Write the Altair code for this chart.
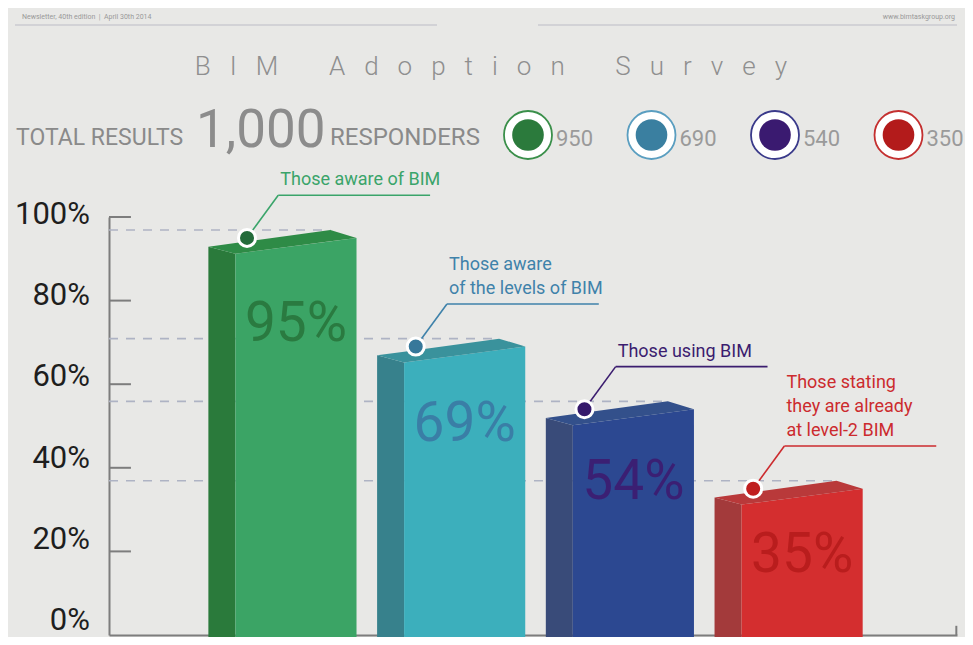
import altair as alt
import pandas as pd

# ---------------- data ----------------
categories = ["Those aware of BIM", "Those aware of the levels of BIM",
              "Those using BIM", "Those stating they are already at level-2 BIM"]
label_lines = [["Those aware of BIM"],
               ["Those aware", "of the levels of BIM"],
               ["Those using BIM"],
               ["Those stating", "they are already", "at level-2 BIM"]]
percents = [95, 69, 54, 35]
counts = [950, 690, 540, 350]
total_text = "1,000"
y_ticks = [0, 20, 40, 60, 80, 100]

front_colors = ["#3ba465", "#3cafbc", "#2c4891", "#d42e2f"]
side_colors = ["#2a7a3b", "#37818c", "#394b79", "#a33a3b"]
top_colors = ["#2e8b46", "#3a929c", "#33508b", "#b9393a"]
pct_colors = ["#2a7a40", "#3a7ea6", "#3b1f73", "#b91d1d"]
note_colors = ["#3aa46a", "#3f82aa", "#3b1d6f", "#cc2b2e"]
marker_colors = ["#236b3a", "#37789a", "#35196b", "#c01f1f"]
legend_fill = ["#2b7a3c", "#3a7fa0", "#3a1a70", "#b31b1b"]
legend_ring = ["#3a8f4a", "#5a9ec0", "#3a3a8a", "#c43030"]

# ---------------- layout constants ----------------
FONT = "Roboto, Liberation Sans, Arial"
W, H = 848, 418
XMIN, XMAX = -1.108, 3.918
XS = alt.Scale(domain=[XMIN, XMAX], nice=False, zero=False)
YS = alt.Scale(domain=[0, 100], nice=False, zero=False)

HALF = 0.359      # half width of front face
SIDE = 0.16       # depth of side face
DROP = 3.8        # front-left lower than front-right (in %)
BACK = 1.9        # back edge above front edge (in %)

yaxis = alt.Axis(values=y_ticks, labels=False, ticks=False, grid=False,
                 domain=True, domainColor="#7d7d7d", domainWidth=2, title=None)
xaxis = alt.Axis(labels=False, ticks=False, grid=False, domain=True,
                 domainColor="#7d7d7d", domainWidth=2, title=None)


def X(f):
    return alt.X(f, scale=XS, axis=xaxis)


def Y(f):
    return alt.Y(f, scale=YS, axis=yaxis, stack=None)


# ---------------- derived tables ----------------
side_rows, front_rows, top_rows = [], [], []
for i, v in enumerate(percents):
    c = float(i)
    bl = v - 2.1
    br_x = c + HALF - 0.155
    side_rows += [dict(bar=i, x=c - HALF - SIDE, y=bl, y2=-3, col=side_colors[i]),
                  dict(bar=i, x=c - HALF, y=v - DROP, y2=-3, col=side_colors[i])]
    front_rows += [dict(bar=i, x=c - HALF, y=v - DROP, y2=-3, col=front_colors[i]),
                   dict(bar=i, x=c + HALF, y=v, y2=-3, col=front_colors[i])]
    top_rows += [
        dict(bar=i, x=c - HALF - SIDE, y=bl, y2=bl, col=top_colors[i]),
        dict(bar=i, x=c - HALF, y=bl + (SIDE / (br_x - (c - HALF - SIDE))) * (v + BACK - bl),
             y2=v - DROP, col=top_colors[i]),
        dict(bar=i, x=br_x, y=v + BACK, y2=v - DROP + ((br_x - (c - HALF)) / (2 * HALF)) * DROP,
             col=top_colors[i]),
        dict(bar=i, x=c + HALF, y=v, y2=v, col=top_colors[i]),
    ]
side_df = pd.DataFrame(side_rows)
front_df = pd.DataFrame(front_rows)
top_df = pd.DataFrame(top_rows)

bars_df = pd.DataFrame({
    "i": range(len(percents)), "v": percents, "cat": categories,
    "pct": [f"{p}%" for p in percents],
    "pc": pct_colors, "nc": note_colors, "mc": marker_colors,
})
bars_df["c"] = bars_df["i"].astype(float)
bars_df["dash_y"] = bars_df["v"] + BACK
bars_df["dash_x0"] = XMIN
bars_df["dash_x1"] = bars_df["c"] + HALF - 0.155
bars_df["mx"] = bars_df["c"] - 0.29
bars_df["lx"] = bars_df["c"] - 0.105
bars_df["ly"] = bars_df["v"] + 10.2
bars_df["ux"] = bars_df["lx"] + 0.9
bars_df["py"] = bars_df["v"] - (13 + 0.08 * bars_df["v"])

note_rows = []
for i, lines in enumerate(label_lines):
    n = len(lines)
    for k, t in enumerate(lines):
        note_rows.append(dict(t=t, x=i - 0.105 + 0.012,
                              y=percents[i] + 10.2 + 2.4 + (n - 1 - k) * 5.74,
                              nc=note_colors[i]))
note_df = pd.DataFrame(note_rows)

tick_df = pd.DataFrame({"y": y_ticks[1:]})
tick_df["x0"] = XMIN
tick_df["x1"] = XMIN + 0.13

ylab_df = pd.DataFrame({"v": y_ticks})
ylab_df["t"] = ylab_df["v"].astype(str) + "%"
ylab_df["x"] = XMIN
ylab_df["y"] = 3.3 + ylab_df["v"] * 0.972

legend_df = pd.DataFrame({"i": range(len(counts)), "n": [str(c) for c in counts],
                          "fill": legend_fill, "ring": legend_ring})

# ---------------- layers ----------------
dashed = alt.Chart(bars_df).mark_rule(strokeDash=[9, 8], color="#aeb3c4", strokeWidth=1.6).encode(
    x=X("dash_x0:Q"), x2="dash_x1:Q", y=Y("dash_y:Q"))

ticks = alt.Chart(tick_df).mark_rule(color="#7d7d7d", strokeWidth=2).encode(
    x=X("x0:Q"), x2="x1:Q", y=Y("y:Q"))

ylabels = alt.Chart(ylab_df).mark_text(font=FONT, fontSize=31, color="#1e1e1e", align="right",
                                       baseline="middle", dx=-19).encode(
    x=X("x:Q"), y=Y("y:Q"), text="t:N")

end_tick = alt.Chart(pd.DataFrame({"x": [XMAX - 0.004], "y0": [0], "y1": [2.2]})).mark_rule(
    color="#7d7d7d", strokeWidth=2).encode(x=X("x:Q"), y=Y("y0:Q"), y2="y1:Q")


def face(df):
    return alt.Chart(df).mark_area(orient="vertical", interpolate="linear").encode(
        x=X("x:Q"), y=Y("y:Q"), y2="y2:Q", detail="bar:N",
        fill=alt.Fill("col:N", scale=None))


side = face(side_df)
front = face(front_df)
top = face(top_df)

pct_text = alt.Chart(bars_df).mark_text(font=FONT, fontSize=55, align="center", baseline="middle").encode(
    x=X("c:Q"), y=Y("py:Q"), text="pct:N", color=alt.Color("pc:N", scale=None))

leader = alt.Chart(bars_df).mark_rule(strokeWidth=1.6).encode(
    x=X("mx:Q"), y=Y("v:Q"), x2="lx:Q", y2="ly:Q", color=alt.Color("nc:N", scale=None))
underline = alt.Chart(bars_df).mark_rule(strokeWidth=1.6).encode(
    x=X("lx:Q"), x2="ux:Q", y=Y("ly:Q"), color=alt.Color("nc:N", scale=None))
markers = alt.Chart(bars_df).mark_point(shape="circle", filled=True, size=290, stroke="white",
                                        strokeWidth=3, opacity=1).encode(
    x=X("mx:Q"), y=Y("v:Q"), fill=alt.Fill("mc:N", scale=None))
notes = alt.Chart(note_df).mark_text(font=FONT, fontSize=18, align="left", baseline="alphabetic").encode(
    x=X("x:Q"), y=Y("y:Q"), text="t:N", color=alt.Color("nc:N", scale=None))


def label(text, x, y, size, color, align="left", font=FONT, weight="normal"):
    return alt.Chart(pd.DataFrame({"t": [text]})).mark_text(
        font=font, fontSize=size, color=color, align=align, baseline="alphabetic",
        fontWeight=weight).encode(text="t:N", x=alt.value(x), y=alt.value(y))


NB = "\u00a0"
header_left = label("Newsletter, 40th edition" + NB * 2 + "|" + NB * 2 + "April 30th 2014",
                    -87, -198, 7, "#999999")
header_right = label("www.bimtaskgroup.org", 846, -198, 7, "#999999", align="right")
hline = alt.Chart(pd.DataFrame({"a": [-94, 429], "b": [328, 848]})).mark_rule(
    color="#cbcbd0", strokeWidth=1.5).encode(
    x=alt.X("a:Q", scale=None), x2="b:Q", y=alt.value(-192))

title_text = (NB * 3).join("BIM") + NB * 8 + (NB * 3).join("Adoption") + NB * 8 + (NB * 3).join("Survey")
title = label(title_text, 382, -142, 26, "#8f8f8f", align="center", weight=300)
total_l = label("TOTAL RESULTS", -93, -72, 23, "#8a8a8a")
total_n = label(total_text, 87, -70, 53, "#8c8c8c")
total_r = label("RESPONDERS", 221, -72, 24, "#8a8a8a")

leg_base = alt.Chart(legend_df).transform_calculate(px="419 + datum.i * 123.5", tx="447 + datum.i * 123.5")
leg_outer = leg_base.mark_point(shape="circle", filled=True, size=2304, fill="white", strokeWidth=1.8,
                                opacity=1).encode(
    x=alt.X("px:Q", scale=None), y=alt.value(-82), stroke=alt.Stroke("ring:N", scale=None))
leg_inner = leg_base.mark_point(shape="circle", filled=True, size=1000, opacity=1).encode(
    x=alt.X("px:Q", scale=None), y=alt.value(-82), fill=alt.Fill("fill:N", scale=None))
leg_text = leg_base.mark_text(font=FONT, fontSize=22, color="#9a9a9a", align="left",
                              baseline="alphabetic").encode(
    x=alt.X("tx:Q", scale=None), y=alt.value(-71), text="n:N")

chart = alt.layer(
    dashed, ticks, ylabels, end_tick, side, front, top, pct_text, leader, underline, markers, notes,
    header_left, header_right, hline, title, total_l, total_n, total_r,
    leg_outer, leg_inner, leg_text,
).properties(
    width=W, height=H,
    autosize=alt.AutoSizeParams(type="none"),
    padding={"left": 101, "top": 209, "right": 8, "bottom": 2},
    background="#e8e8e6",
).configure_view(stroke=None)

chart.save("out.html", embed_options={"renderer": "svg", "actions": False})
